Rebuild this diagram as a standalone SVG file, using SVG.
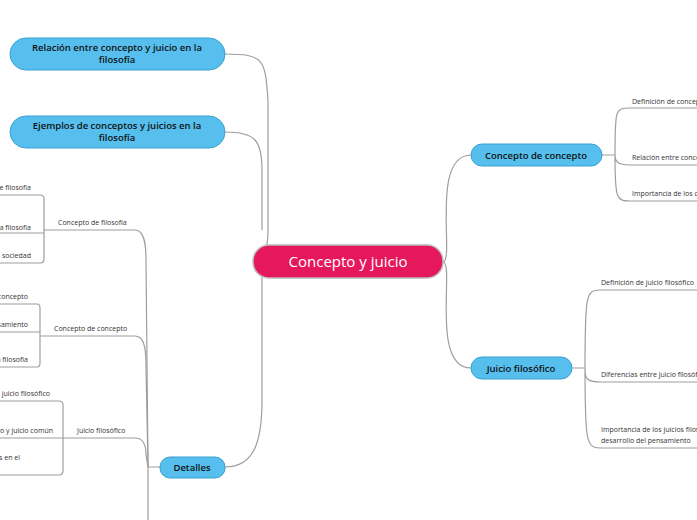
<svg xmlns="http://www.w3.org/2000/svg" width="697" height="520" viewBox="0 0 697 520">
<style>
.c{fill:none;stroke:#9e9e9e;stroke-width:1.2}
.b{fill:#56bfee;stroke:#3a9fd0;stroke-width:1}
.t{font-family:"Open Sans","Noto Sans",sans-serif;font-size:9.5px;fill:#111;font-weight:600}
.s{font-family:"Open Sans","Noto Sans",sans-serif;font-size:7px;fill:#333}
</style>
<rect width="697" height="520" fill="#fff"/>
<g id="connectors">
<path class="c" d="M225 54 C265 54 265 60 268 100 L268 230 C268 255 260 262 255 262"/>
<path class="c" d="M225 132 C255 132 262 140 262 170 L262 230"/>
<path class="c" d="M225 467 C255 467 262 440 262 400 L262 275 C262 268 258 262 255 262"/>
<path class="c" d="M443 262 C455 262 430 155 471 155"/>
<path class="c" d="M443 262 C455 262 430 368 471 368"/>
<path class="c" d="M602 155 L615 155 M615 155 C615 110 615 108 630 108 L697 108 M615 155 C615 160 616 165 630 165 L697 165 M615 155 C615 198 616 201 630 201 L697 201"/>
<path class="c" d="M572 368 L585 368 M585 368 C585 295 586 290 600 290 L697 290 M585 368 C585 378 586 382 600 382 L697 382 M585 368 C585 440 586 448 600 448 L697 448"/>
<path class="c" d="M160 467 L148 467 L148 520"/>
<path class="c" d="M44 230 L135 230 C143 230 146 240 146 260 L148 467"/>
<path class="c" d="M40 336 L135 336 C143 336 146 345 146 365 L148 467"/>
<path class="c" d="M63 438 L135 438 C143 438 146 445 146 455 L148 467"/>
<path class="c" d="M0 195 L40 195 Q44 195 44 199 L44 259 Q44 263 40 263 L0 263 M0 233 L44 233"/>
<path class="c" d="M0 304 L37 304 Q40 304 40 308 L40 363 Q40 367 37 367 L0 367 M0 332 L40 332"/>
<path class="c" d="M0 401 L59 401 Q63 401 63 405 L63 471 Q63 475 59 475 L0 475 M0 438 L63 438"/>
</g>
<g id="center"><rect x="253" y="245" width="190" height="33" rx="16" fill="#e5185e" stroke="#bbb" stroke-width="1.5"/><text x="348" y="267" text-anchor="middle" font-family="Open Sans,Noto Sans,sans-serif" font-size="15" fill="#fff">Concepto y juicio</text></g>
<g id="n1"><rect class="b" x="10" y="38" width="215" height="32" rx="16"/><text class="t" x="117" y="51" text-anchor="middle">Relación entre concepto y juicio en la</text><text class="t" x="117" y="63" text-anchor="middle">filosofía</text></g>
<g id="n2"><rect class="b" x="10" y="116" width="215" height="32" rx="16"/><text class="t" x="117" y="129" text-anchor="middle">Ejemplos de conceptos y juicios en la</text><text class="t" x="117" y="141" text-anchor="middle">filosofía</text></g>
<g id="n3"><rect class="b" x="471" y="144" width="131" height="22" rx="11"/><text class="t" x="536" y="159" text-anchor="middle">Concepto de concepto</text></g>
<g id="n4"><rect class="b" x="471" y="357" width="101" height="22" rx="11"/><text class="t" x="521" y="372" text-anchor="middle">Juicio filosófico</text></g>
<g id="n5"><rect class="b" x="160" y="457" width="65" height="21" rx="10"/><text class="t" x="192" y="471" text-anchor="middle">Detalles</text></g>
<g id="leaves">
<text class="s" x="632" y="104">Definición de concepto</text>
<text class="s" x="632" y="160">Relación entre concepto y juicio</text>
<text class="s" x="632" y="196">Importancia de los conceptos</text>
<text class="s" x="601" y="285">Definición de juicio filosófico</text>
<text class="s" x="601" y="377">Diferencias entre juicio filosófico y juicio común</text>
<text class="s" x="601" y="432">Importancia de los juicios filosóficos en el</text>
<text class="s" x="601" y="443">desarrollo del pensamiento</text>
<text class="s" x="58" y="225">Concepto de filosofía</text>
<text class="s" x="54" y="331">Concepto de concepto</text>
<text class="s" x="77" y="433">Juicio filosófico</text>
<text class="s" x="31" y="190" text-anchor="end">Definición de filosofía</text>
<text class="s" x="31" y="230" text-anchor="end">Importancia de la filosofía</text>
<text class="s" x="31" y="258" text-anchor="end">La filosofía y la sociedad</text>
<text class="s" x="28" y="299" text-anchor="end">Definición de concepto</text>
<text class="s" x="28" y="327" text-anchor="end">Concepto y pensamiento</text>
<text class="s" x="28" y="362" text-anchor="end">Concepto en la filosofía</text>
<text class="s" x="50" y="396" text-anchor="end">Definición de juicio filosófico</text>
<text class="s" x="53" y="433" text-anchor="end">Diferencias entre juicio filosófico y juicio común</text>
<text class="s" x="20" y="460" text-anchor="end">Importancia de los juicios filosóficos en el</text>
</g>
</svg>
